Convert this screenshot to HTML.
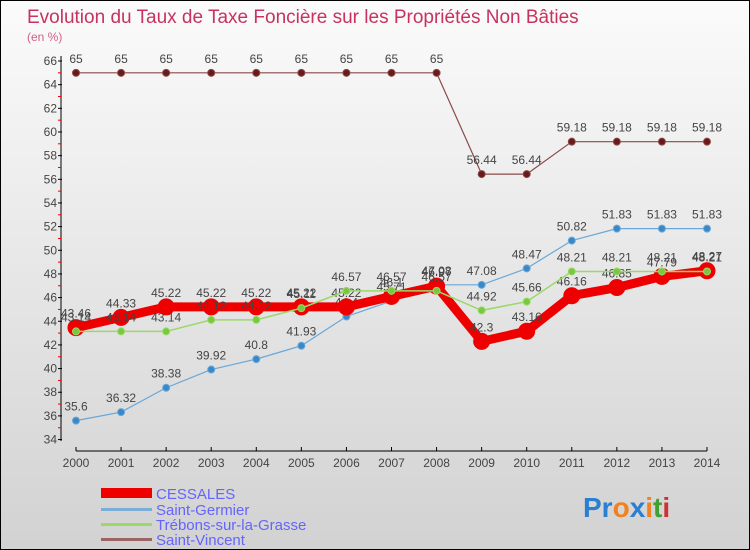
<!DOCTYPE html>
<html><head><meta charset="utf-8"><style>
body{margin:0}
#c{width:750px;height:550px;position:relative;overflow:hidden;border:1px solid #000;box-sizing:border-box;background:linear-gradient(#fbfbfb,#d2d2d2);font-family:"Liberation Sans",sans-serif}
</style></head><body>
<div id="c">
<svg width="750" height="550">
<text x="26" y="22" font-size="19" fill="#c8325f">Evolution du Taux de Taxe Foncière sur les Propriétés Non Bâties</text>
<text x="26" y="40" font-size="12" fill="#d0608a">(en %)</text>
<g id="axes"></g><g id="series"></g>
<g>
<rect x="100" y="487" width="51" height="10" fill="#e00"/>
<text x="155" y="498" font-size="15" fill="#6464ff">CESSALES</text>
<rect x="100" y="507" width="51" height="3" fill="#7aaed6"/>
<text x="155" y="514" font-size="15" fill="#6464ff">Saint-Germier</text>
<rect x="100" y="522" width="51" height="3" fill="#9ad86a"/>
<text x="155" y="529" font-size="15" fill="#6464ff">Trébons-sur-la-Grasse</text>
<rect x="100" y="537" width="51" height="3" fill="#9a6464"/>
<text x="155" y="544" font-size="15" fill="#6464ff">Saint-Vincent</text>
</g>
<g font-size="28" font-weight="bold">
<text x="582" y="516"><tspan fill="#2a7fd0">Pr</tspan><tspan fill="#f08020">o</tspan><tspan fill="#2a7fd0">x</tspan><tspan fill="#f08020">i</tspan><tspan fill="#40a030">t</tspan><tspan fill="#d03030">i</tspan></text>
</g>
</svg>
</div>
<script>
const years=[2000,2001,2002,2003,2004,2005,2006,2007,2008,2009,2010,2011,2012,2013,2014];
const cessales=[43.46,44.33,45.22,45.22,45.22,45.22,45.22,46.1,46.97,42.3,43.16,46.16,46.85,47.79,48.27];
const germier=[35.6,36.32,38.38,39.92,40.8,41.93,44.4,45.71,47.08,47.08,48.47,50.82,51.83,51.83,51.83];
const trebons=[43.14,43.14,43.14,44.12,44.12,45.11,46.57,46.57,46.57,44.92,45.66,48.21,48.21,48.21,48.21];
const vincent=[65,65,65,65,65,65,65,65,65,56.44,56.44,59.18,59.18,59.18,59.18];
const yTicks=[34,36,38,40,42,44,46,48,50,52,54,56,58,60,62,64,66];
const NS="http://www.w3.org/2000/svg";
const X=i=>75+i*(631/14);
const Y=v=>60+(66-v)*11.83;
function mk(p,t,a){const e=document.createElementNS(NS,t);for(const k in a)e.setAttribute(k,a[k]);p.appendChild(e);return e;}
const ax=document.getElementById('axes');
let l=mk(ax,'line',{x1:60,y1:55,x2:60,y2:440,stroke:'#000'});


l=mk(ax,'line',{x1:75,y1:450,x2:706,y2:450,stroke:'#000'});


yTicks.forEach(v=>{
 mk(ax,'line',{x1:57,y1:Y(v),x2:61,y2:Y(v),stroke:'#000'});
 if(v<66)mk(ax,'line',{x1:57,y1:Y(v+1),x2:60,y2:Y(v+1),stroke:'#e00'});
 const t=mk(ax,'text',{x:56,y:Y(v)+4,'font-size':12,fill:'#444','text-anchor':'end'});
 t.textContent=v;
 
 
});
years.forEach((y,i)=>{
 mk(ax,'line',{x1:X(i),y1:446,x2:X(i),y2:450,stroke:'#000'});
 const t=mk(ax,'text',{x:X(i),y:466,'font-size':12,fill:'#444','text-anchor':'middle'});
 t.textContent=y;
 
 
});
const sg=document.getElementById('series');
function draw(name,data,col,w,r,dot){
 const g=mk(sg,'g',{});
 
 
 mk(g,'polyline',{points:data.map((v,i)=>X(i)+','+Y(v)).join(' '),fill:'none',stroke:col,'stroke-width':w,'stroke-linejoin':'round'});
 data.forEach((v,i)=>{
  const c=mk(g,'circle',{cx:X(i),cy:Y(v),r:r,fill:dot,stroke:col});
  
  
  const t=mk(g,'text',{x:X(i),y:Y(v)-10,'font-size':12,fill:'#444','text-anchor':'middle'});
  t.textContent=v;
  
  
 });
}
draw('saint-vincent',vincent,'#8a4a4a',1.2,3.5,'#6a1a1a');
draw('saint-germier',germier,'#6aa8d8',1.2,3.5,'#3a88c8');
draw('cessales',cessales,'#e00',9,8,'#e00');
draw('trebons',trebons,'#9ad86a',1.5,3.5,'#78c840');
</script>
</body></html>
